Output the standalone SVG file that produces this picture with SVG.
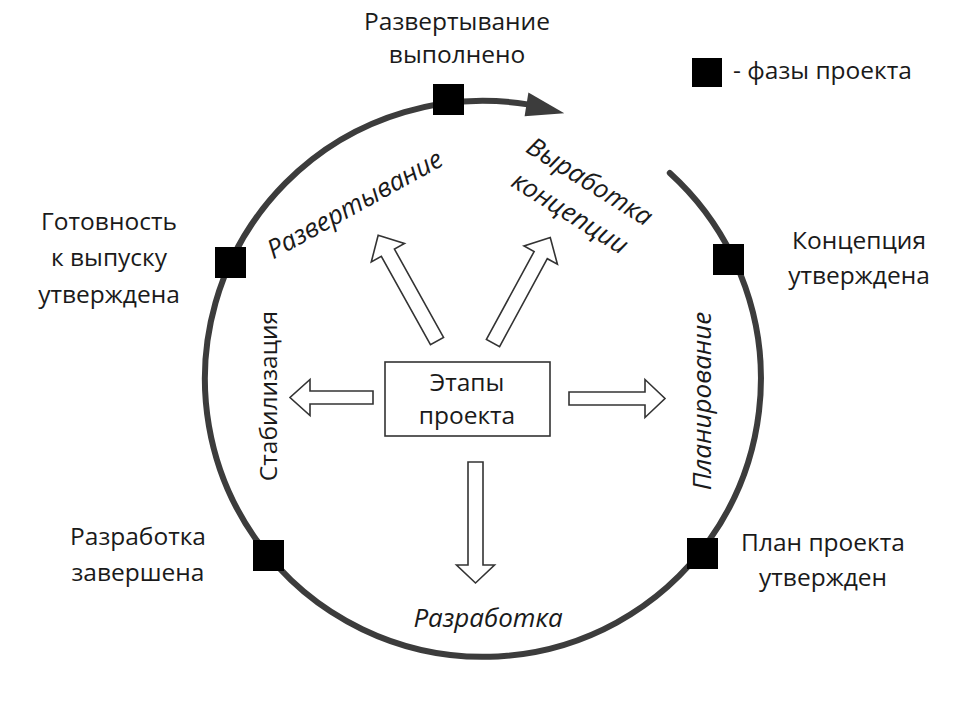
<svg xmlns="http://www.w3.org/2000/svg" width="962" height="708" viewBox="0 0 962 708">
<style>
  .lbl { font-family: "Open Sans", "Noto Sans", "Liberation Sans", sans-serif; font-size: 24.5px; fill: #1a1a1a; }
  .it { font-style: italic; font-size: 26px; }
  .ring { fill: none; stroke: #3c3c3c; stroke-width: 6; stroke-linecap: round; }
  .phase { fill: #000; }
  .blk { fill: #fff; stroke: #333; stroke-width: 1.6; stroke-linejoin: miter; }
  .box { fill: #fff; stroke: #333; stroke-width: 1.6; }
</style>
<rect width="962" height="708" fill="#fff"/>

<g id="connectors">
  <path class="ring" d="M 669.8 173 A 278 278 0 1 1 527.5 104.4"/>
  <polygon points="564.3,113.2 528.4,92.5 524.6,116.3" fill="#3c3c3c"/>
  <path class="blk" transform="translate(569,398.5)" d="M0,-6.5 L76,-6.5 L76,-19 L96,0 L76,19 L76,6.5 L0,6.5 Z"/>
  <path class="blk" transform="translate(373,397.5) rotate(180)" d="M0,-6.5 L63,-6.5 L63,-18 L83,0 L63,18 L63,6.5 L0,6.5 Z"/>
  <path class="blk" transform="translate(475.5,462) rotate(90)" d="M0,-7.5 L103,-7.5 L103,-19 L121,0 L103,19 L103,7.5 L0,7.5 Z"/>
  <path class="blk" transform="translate(437,341) rotate(-119.1)" d="M0,-7.5 L101,-7.5 L101,-19 L121,0 L101,19 L101,7.5 L0,7.5 Z"/>
  <path class="blk" transform="translate(493,343) rotate(-61.5)" d="M0,-7.5 L100,-7.5 L100,-19 L120,0 L100,19 L100,7.5 L0,7.5 Z"/>
</g>

<g id="center">
  <rect class="box" x="385" y="362" width="165" height="74"/>
  <text class="lbl" text-anchor="middle" x="467" y="391">Этапы</text>
  <text class="lbl" text-anchor="middle" x="467" y="424">проекта</text>
</g>

<g id="phase-deploy-done">
  <rect class="phase" x="433" y="84" width="31" height="31"/>
  <text class="lbl" text-anchor="middle" x="457" y="30">Развертывание</text>
  <text class="lbl" text-anchor="middle" x="457" y="63">выполнено</text>
</g>
<g id="phase-release-ready">
  <rect class="phase" x="215" y="247" width="31" height="31"/>
  <text class="lbl" text-anchor="middle" x="109" y="230">Готовность</text>
  <text class="lbl" text-anchor="middle" x="109" y="266">к выпуску</text>
  <text class="lbl" text-anchor="middle" x="109" y="303">утверждена</text>
</g>
<g id="phase-concept">
  <rect class="phase" x="713" y="244" width="31" height="31"/>
  <text class="lbl" text-anchor="middle" x="859" y="249">Концепция</text>
  <text class="lbl" text-anchor="middle" x="859" y="284">утверждена</text>
</g>
<g id="phase-dev-done">
  <rect class="phase" x="253" y="540" width="31" height="31"/>
  <text class="lbl" text-anchor="middle" x="138" y="545">Разработка</text>
  <text class="lbl" text-anchor="middle" x="138" y="581">завершена</text>
</g>
<g id="phase-plan">
  <rect class="phase" x="687" y="538" width="31" height="31"/>
  <text class="lbl" text-anchor="middle" x="823" y="551">План проекта</text>
  <text class="lbl" text-anchor="middle" x="823" y="586">утвержден</text>
</g>
<g id="legend">
  <rect class="phase" x="692" y="58" width="30" height="29"/>
  <text class="lbl" x="733" y="79">- фазы проекта</text>
</g>

<g id="stage-deploy">
  <text class="lbl it" text-anchor="middle" transform="translate(359,212) rotate(-29)">Развертывание</text>
</g>
<g id="stage-concept">
  <text class="lbl it" text-anchor="middle" transform="translate(585,189) rotate(32)"><tspan x="0" y="0">Выработка</tspan><tspan x="0" y="37">концепции</tspan></text>
</g>
<g id="stage-plan">
  <text class="lbl it" text-anchor="middle" transform="translate(711,401) rotate(-90)">Планирование</text>
</g>
<g id="stage-dev">
  <text class="lbl it" text-anchor="middle" x="488" y="627">Разработка</text>
</g>
<g id="stage-stab">
  <text class="lbl" text-anchor="middle" transform="translate(277,396) rotate(-90)">Стабилизация</text>
</g>
</svg>
